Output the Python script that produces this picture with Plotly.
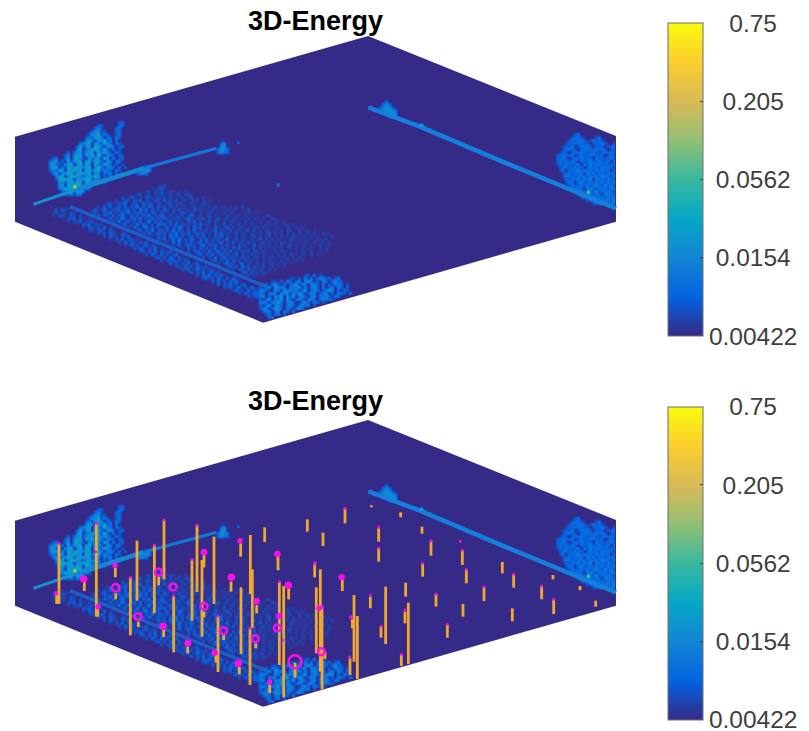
import math
import plotly.graph_objects as go

# --- colour scale ticks (energy, log scale) ---
tick_values = [0.00422, 0.0154, 0.0562, 0.205, 0.75]
tick_labels = ["0.00422", "\u00a00.0154", "\u00a00.0562", "\u00a0\u00a00.205", "\u00a0\u00a0\u00a00.75"]
parula = [[0, "#352a87"], [0.125, "#0363e1"], [0.25, "#1485d4"], [0.375, "#06a7c6"], [0.5, "#38b99e"],
          [0.625, "#92bf73"], [0.75, "#d9ba56"], [0.875, "#fcce2e"], [1, "#f9fb0e"]]

# energy read for each digit used in the texture rows below
energy_levels = [0.00422, 0.00519, 0.00606, 0.00709, 0.00871, 0.01072, 0.01389, 0.01997, 0.0287, 0.0481]

# outline of the scanned volume
hex_x = [45, 1104, 1848, 1848, 789, 45]
hex_y = [122, -180, 120, 377, 680, 377]

# grid of the energy texture
cell_w, cell_h = 9, 9
grid_cols, grid_rows = 200, 96
grid_x0, grid_y0 = 49.5, -175.5

tree_left_origin = (10, 28)
tree_left = [
    "000000000000000000000000340", "000000000000000003400000450", "000000000000000046300004500",
    "000000000000000467140004400", "000000000000004768354003500", "000000000000045287605405400",
    "000000000000067607582605000", "000000000005678076386504300", "000000000047367087506740350",
    "000000000068056787385050400", "000000040576367708576305300", "000000460678076838606540430",
    "004500570786307567086050340", "056705083678078387507604500", "067340678068387086386504030",
    "057806287687578068605640403", "046387087867087578365405300", "005706787378768076054604030",
    "000678068876377687040500200", "000378887067788365305000000", "000067378687087674040000000",
    "000067087888367400000000000", "000056878978065000000000000", "000004678087600000000000000",
    "000000456365000000000000000"]

tree_right_origin = (180, 32)
tree_right = [
    "000000350000000000000", "000003543000034000000", "000034354403435300000", "000243545340343540030",
    "002435035453043403450", "003454304545354530340", "024303545434532453540", "345435035345443403530",
    "435303545434054334534", "354435304345435435054", "243543450536354353445", "035434535035443545334",
    "034054463545354534054", "003453545064535435453", "003534354535453654354", "000435453546054535435",
    "000354045435453545364", "000035435453564354535", "000003454065435453554", "000000345435463545435",
    "000000034545354065445", "000000003435454535456", "000000000034545455465", "000000000000345454555"]

bump_origin = (120, 21)
bump_rows = ["0004000", "0046500", "0467640", "0467765", "0046776", "0000567"]
fence_lumps_origin = [(40, 43), (67, 35)]
fence_lumps = [["00465", "04676", "46650"], ["0460", "0670", "4765", "5654"]]

road_base = (11, 47)
band_start = [(1, 10), (1, 11), (1, 12), (4, 13), (6, 14), (9, 15), (11, 16), (13, 17), (16, 18), (18, 19), (20, 20), (23, 21),
              (25, 22), (28, 23), (30, 24), (32, 25), (35, 26), (37, 27), (40, 28), (42, 29), (44, 30), (47, 31), (49, 32),
              (51, 33), (54, 34), (56, 35), (58, 36), (61, 37), (63, 38), (66, 39)]
band_rows = ["120321", "13021032", "2032103102", "1032403102", "2031402130", "103240312", "2042130402", "1302410320",
             "2130421032", "3041203140", "20314023120", "3041320314", "20413024032", "3142031402", "24031403214",
             "30420413024", "2413042031", "30324130420", "4130314024", "23041304213", "31402413032", "4031402413",
             "30425031402", "241304213042", "3141304241", "40324130420", "314025031420", "241304132", "3042143", "21341"]
road_start = [(37, 2), (34, 3), (31, 4), (27, 5), (24, 6), (22, 7), (18, 8), (16, 9), (14, 10), (14, 11), (16, 12), (19, 13),
              (21, 14), (24, 15), (26, 16), (29, 17), (31, 18), (34, 19), (36, 20), (39, 21), (41, 22), (44, 23), (46, 24),
              (49, 25), (51, 26), (54, 27), (56, 28), (59, 29), (61, 30), (64, 31), (66, 32)]
road_rows = [
    "12", "10231", "012021301210102", "10230120213102021013", "2013201032103120210120130102",
    "20132031402103204120301201210201", "0230132401320413203102301210120102110",
    "2031402314032503142031203120210130120102011010102",
    "130241032403413052403130420213012031201021010201101020",
    "241032503142503241304203120301320210201210102011001020110",
    "3042140352041304250314203021302410201302010210110201010021",
    "240315203414032503142031302410213020130120210102011010021",
    "3150240314025041302403120314020130210201201020110100201101",
    "24031504213052403140312031402102013020120102101020110011020",
    "304213504130240315203041302103201402012010210201011002101010",
    "2403150241305142031402130240210301201302010210102011002011010",
    "315024130425031402413020314021030210210201302010201020110100201",
    "20413052413024031402031402103021013020120102010210110201001020",
    "3140241503142031402130240130210201302010201021010110020110",
    "20415031402403130240213012030201302010210201011002011010",
    "314024130250314021302031201302102010201201011010020110",
    "20314031402403120314021030201021020110102011001020",
    "30241305024031402031202103010201201010210100101",
    "2403140241302402103120120102010211010020110",
    "30314024031203120210201201021010110010",
    "2403140312031202010201020101101",
    "30241302402103020120102010",
    "241304130210201201010",
    "3024031203102010",
    "2403120210",
    "302101"]
blob_start = [(84, 32), (80, 33), (74, 34), (71, 35), (70, 36), (70, 37), (70, 38), (70, 39), (70, 40), (70, 41), (70, 42),
              (70, 43), (71, 44), (72, 45), (73, 46), (75, 47)]
blob_rows = ["034050320", "230406050465340450", "2304064046067504064056430", "34056405045706405640504064503",
             "4056075640565706056405046064040", "5640065075646057046504576040530", "6405640657064750465045604064305",
             "5604065706470564056054640640", "40570647064056405640565430", "5640657405640056405403",
             "40570564056405645030", "3560476405405640", "465056054053", "35045043", "45340", "32"]

# linear features: fences and the kerb strip
line_xs = [[100, 225], [225, 430], [430, 650], [1105, 1190, 1260, 1520, 1680, 1848], [210, 800]]
line_ys = [[325, 282], [282, 217], [217, 157], [34, 67, 92, 202, 267, 337], [332, 572]]
line_widths = [3, 4.5, 3.2, 4.5, 3.5]
line_colors = ["#1590d0", "#1488d4", "#1478d8", "#1280dc", "#1a60cc"]

# small patches
patch_x = [1265, 672, 835, 715]
patch_y = [88, 152, 267, 140]
patch_size = [4, 3, 4, 3]
patch_color = ["#1a8fd8", "#1a80d0", "#1560d0", "#1560d0"]
hot_x = [225, 1765]
hot_y = [272, 289]
hot_color = ["#a8c860", "#50c080"]

# detections: vertical bars
bar_x = [177, 170, 289, 293, 253, 346, 347, 391, 411, 415, 463, 476, 492, 491, 521, 563, 576, 591, 606, 612, 612, 642,
         654, 648, 671, 693, 718, 723, 722, 751, 757, 750, 770, 767, 794, 809, 834, 838, 851, 866, 885, 922, 1035, 969,
         944, 949, 961, 966, 1027, 975, 1062, 1057, 1072, 1050, 1111, 1136, 1136, 1114, 1157, 1143, 1215, 1217, 1225,
         1204, 1202, 1266, 1268, 1293, 1308, 1342, 1387, 1399, 1389, 1452, 1507, 1537, 1541, 1625, 1659, 1661, 1740, 1787]
bar_top = [192, 345, 130, 380, 305, 262, 340, 292, 182, 425, 195, 290, 120, 450, 347, 500, 238, 135, 240, 222, 395, 170,
           408, 518, 465, 305, 560, 322, 190, 165, 268, 445, 375, 490, 142, 615, 222, 305, 318, 325, 548, 118, 85, 158,
           250, 322, 268, 380, 300, 515, 345, 418, 408, 535, 350, 145, 203, 76, 320, 438, 395, 308, 368,
           525, 97, 140, 250, 182, 342, 433, 210, 268, 372, 320, 246, 385, 282, 318, 285, 358, 318, 362]
bar_bottom = [372, 372, 410, 410, 333, 292, 358, 466, 362, 441, 400, 316, 298, 471, 517, 520, 422, 336, 470, 262, 412, 372,
              576, 548, 480, 335, 583, 522, 230, 342, 444, 615, 400, 505, 186, 640, 270, 555, 652, 358, 593, 155, 130, 198,
              292, 520, 575, 628, 333, 537, 545, 445, 597, 585, 385, 185, 245, 82, 492, 473, 430, 350, 552,
              558, 112, 161, 290, 227, 380, 473, 255, 310, 410, 363, 280, 424, 323, 358, 298, 402, 331, 380]

# detections: magenta rings and dots
ring_x = [347, 414, 476, 519, 612, 670, 766, 832, 885, 964]
ring_y = [323, 410, 277, 321, 379, 452, 476, 444, 545, 515]
ring_size = [7.5, 7, 7, 7, 7, 7, 7, 7, 13, 7]
dot_x = [251, 345, 294, 489, 564, 612, 694, 715, 720, 770, 809, 832, 838, 865, 644, 1025, 957, 945, 168, 1053, 966]
dot_y = [297, 256, 380, 439, 488, 217, 292, 550, 182, 364, 606, 222, 408, 316, 518, 292, 385, 250, 340, 412, 382]
dot_size = [7.5, 5.5, 5.5, 7.5, 7, 7, 7.5, 7.5, 5.5, 6.5, 5.5, 6.5, 6.5, 7.5, 6.5, 6.5, 5.5, 4, 4.5, 4, 4]
tip_x = [177, 289, 391, 463, 492, 591, 576, 654, 751, 849, 838, 287, 521, 1035, 1136, 1136, 1049, 1111, 1143, 1215, 1204,
         1268, 1293, 1308, 1342, 1387, 1399, 1381, 1452, 1541, 1625, 1661]
tip_y = [190, 130, 292, 195, 120, 135, 238, 408, 445, 480, 305, 215, 347, 85, 140, 203, 530, 345, 438, 390, 523,
         250, 182, 342, 433, 210, 268, 184, 320, 282, 318, 358]

# ---------------------------------------------------------------------------
zlog = [math.log10(v) for v in energy_levels]
grid = [[0] * grid_cols for _ in range(grid_rows)]


def stamp(col, row, text):
    for i, ch in enumerate(text):
        if 0 <= row < grid_rows and 0 <= col + i < grid_cols:
            grid[row][col + i] = max(grid[row][col + i], int(ch))


patches = [(tree_left_origin, tree_left), (tree_right_origin, tree_right), (bump_origin, bump_rows)]
patches += list(zip(fence_lumps_origin, fence_lumps))
for origin, rows in patches:
    for k, text in enumerate(rows):
        stamp(origin[0], origin[1] + k, text)
for starts, rows in [(band_start, band_rows), (road_start, road_rows), (blob_start, blob_rows)]:
    for (c, r), text in zip(starts, rows):
        stamp(road_base[0] + c, road_base[1] + r, text)

xs = [grid_x0 + cell_w * c for c in range(grid_cols)]
ys = [grid_y0 + cell_h * r for r in range(grid_rows)]


def inside(x, y):
    for i in range(len(hex_x) - 1):
        cross = (hex_x[i + 1] - hex_x[i]) * (y - hex_y[i]) - (hex_y[i + 1] - hex_y[i]) * (x - hex_x[i])
        if cross < 0:
            return False
    return True


def cell_inside(x, y):
    m = 0.75 * cell_w
    return all(inside(x + a, y + b) for a in (-m, m) for b in (-m, m))


z = [[zlog[grid[r][c]] if cell_inside(xs[c], ys[r]) else None for c in range(grid_cols)] for r in range(grid_rows)]

fig = go.Figure()
H, W = 731, 809
panel_h = 347
zmin, zmax = math.log10(tick_values[0]) - 0.001, math.log10(tick_values[-1]) + 0.001


def add_panel(xa, ya, cb_center):
    fig.add_trace(go.Heatmap(
        x=xs, y=ys, z=z, zsmooth="best", zmin=zmin, zmax=zmax, colorscale=parula, xaxis=xa, yaxis=ya,
        hoverinfo="skip",
        colorbar=dict(
            x=668 / W, xanchor="left", y=1 - cb_center / H, yanchor="middle", thickness=35, thicknessmode="pixels",
            len=313, lenmode="pixels", xpad=0, ypad=0, outlinecolor="#6e6e6e", outlinewidth=1,
            tickmode="array", tickvals=[math.log10(v) for v in tick_values], ticktext=tick_labels,
            ticks="inside", ticklen=3, tickcolor="#333333", tickwidth=1, ticklabeloverflow="allow",
            tickfont=dict(family="Liberation Sans, Arial", size=24.5, color="#404040"),
        )))
    for lx, ly, lw, lc in zip(line_xs, line_ys, line_widths, line_colors):
        fig.add_trace(go.Scatter(x=lx, y=ly, mode="lines", line=dict(color=lc, width=lw), xaxis=xa, yaxis=ya,
                                 hoverinfo="skip", showlegend=False))
    fig.add_trace(go.Scatter(x=patch_x, y=patch_y, mode="markers",
                             marker=dict(size=patch_size, color=patch_color, line_width=0, opacity=1), xaxis=xa, yaxis=ya,
                             hoverinfo="skip", showlegend=False))
    fig.add_trace(go.Scatter(x=hot_x, y=hot_y, mode="markers",
                             marker=dict(size=3.5, color=hot_color, line_width=0, opacity=1),
                             xaxis=xa, yaxis=ya, hoverinfo="skip", showlegend=False))


add_panel("x", "y", 179.6)
add_panel("x2", "y2", 563)

# detections only in the lower panel
seg_x, seg_y = [], []
for bx, bt, bb in zip(bar_x, bar_top, bar_bottom):
    seg_x += [bx, bx, None]
    seg_y += [bt, bb, None]
fig.add_trace(go.Scatter(x=seg_x, y=seg_y, mode="lines", line=dict(color="#f0a92b", width=2.8),
                         xaxis="x2", yaxis="y2", hoverinfo="skip", showlegend=False))
fig.add_trace(go.Scatter(x=tip_x, y=tip_y, mode="markers", marker=dict(size=3, color="#f010d8", line_width=0, opacity=1),
                         xaxis="x2", yaxis="y2", hoverinfo="skip", showlegend=False))
fig.add_trace(go.Scatter(x=dot_x, y=dot_y, mode="markers",
                         marker=dict(size=dot_size, color="#f810e8", line_width=0, opacity=1),
                         xaxis="x2", yaxis="y2", hoverinfo="skip", showlegend=False))
fig.add_trace(go.Scatter(x=ring_x, y=ring_y, mode="markers",
                         marker=dict(size=ring_size, symbol="circle-open", color="#f810e8", opacity=1,
                                     line=dict(width=2.5, color="#f810e8")),
                         xaxis="x2", yaxis="y2", hoverinfo="skip", showlegend=False))

hex_path = "M " + " L ".join(f"{a} {b}" for a, b in zip(hex_x, hex_y)) + " Z"
shapes = [dict(type="path", path=hex_path, xref=xr, yref=yr, fillcolor="#352a87", line_width=0, layer="below")
          for xr, yr in [("x", "y"), ("x2", "y2")]]
hidden = dict(visible=False, fixedrange=True)
xr = [0, W * 3]
yr = [-288 + 3 * panel_h, -288]
fig.update_layout(
    width=W, height=H, margin=dict(l=0, r=0, t=0, b=0), paper_bgcolor="white", plot_bgcolor="rgba(0,0,0,0)",
    showlegend=False, shapes=shapes,
    xaxis=dict(range=xr, domain=[0, 1], **hidden), xaxis2=dict(range=xr, domain=[0, 1], **hidden),
    yaxis=dict(range=yr, domain=[1 - panel_h / H, 1], **hidden),
    yaxis2=dict(range=yr, domain=[0, panel_h / H], **hidden),
    annotations=[
        dict(text="<b>3D-Energy</b>", x=315.5 / W, y=1 - py / H, xref="paper", yref="paper", xanchor="center",
             yanchor="middle", showarrow=False, font=dict(family="Liberation Sans, Arial", size=27, color="#000000"))
        for py in (21, 401)],
)
fig.write_html("out.html", config={"displayModeBar": False},
               post_script="document.body.style.margin='0';document.documentElement.style.overflow='hidden';")
